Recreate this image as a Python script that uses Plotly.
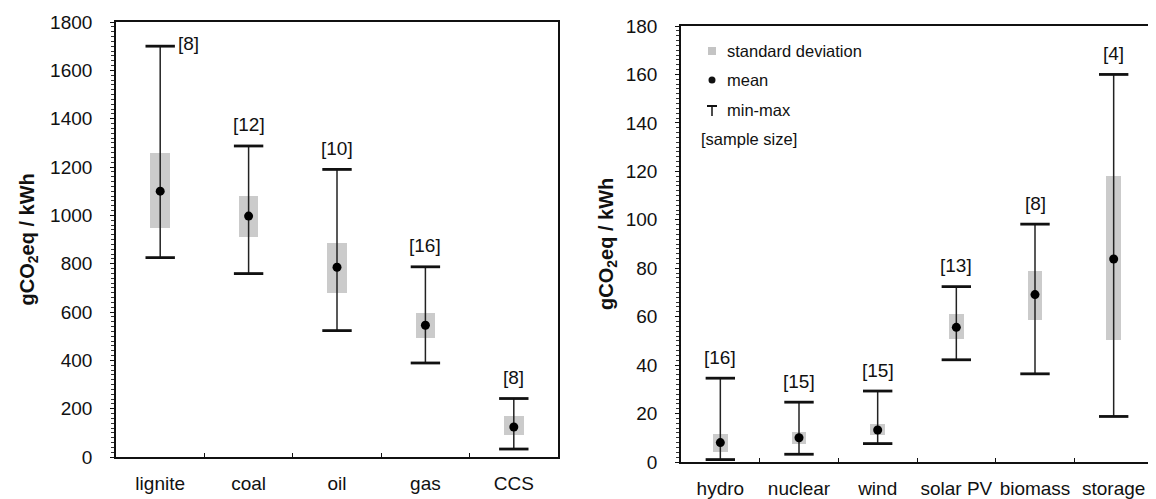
import plotly.graph_objects as go

# ---- data: fossil (left panel) ----
fossil = ["lignite", "coal", "oil", "gas", "CCS"]
fossil_mean = [1100, 997, 785, 545, 124]
fossil_sd_lo = [948, 911, 679, 493, 92]
fossil_sd_hi = [1256, 1080, 886, 596, 168]
fossil_min = [825, 759, 523, 389, 33]
fossil_max = [1700, 1287, 1190, 787, 242]
fossil_n = [8, 12, 10, 16, 8]

# ---- data: low-carbon (right panel) ----
renew = ["hydro", "nuclear", "wind", "solar PV", "biomass", "storage"]
renew_mean = [8.0, 10.0, 13.2, 55.6, 69.1, 83.8]
renew_sd_lo = [4.1, 7.6, 11.0, 50.8, 58.7, 50.2]
renew_sd_hi = [11.7, 12.4, 15.8, 61.1, 78.7, 118.2]
renew_min = [1.0, 3.2, 7.6, 42.2, 36.4, 18.8]
renew_max = [34.6, 24.7, 29.3, 72.4, 98.2, 160]
renew_n = [16, 15, 15, 13, 8, 4]

FONT = "Liberation Sans, Arial, sans-serif"
# the page body has an 8px margin, so the figure is a bit smaller than the window
OFF = 8
W, H = 1156 - OFF, 499 - OFF
FS = 19


def px(x):
    return (x - OFF) / W


def py(y):
    return 1 - (y - OFF) / H


fig = go.Figure()


def add_panel(cats, mean, lo, hi, mn, mx, n, xa, ya, barw):
    # standard deviation boxes
    fig.add_trace(go.Bar(
        x=cats, y=[h - l for l, h in zip(lo, hi)], base=lo, width=barw,
        marker=dict(color="#cbcbcb", line=dict(width=0)),
        xaxis=xa, yaxis=ya, showlegend=False))
    # min-max stems + mean dots
    fig.add_trace(go.Scatter(
        x=cats, y=mean, mode="markers",
        marker=dict(color="black", size=9),
        error_y=dict(type="data", symmetric=False,
                     array=[b - m for b, m in zip(mx, mean)],
                     arrayminus=[m - a for a, m in zip(mn, mean)],
                     width=0, thickness=1.5, color="#222"),
        xaxis=xa, yaxis=ya, showlegend=False))
    # caps
    fig.add_trace(go.Scatter(
        x=cats + cats, y=mn + mx, mode="markers",
        marker=dict(symbol="line-ew", size=21, line=dict(width=2.8, color="#111")),
        xaxis=xa, yaxis=ya, showlegend=False))
    # sample size labels
    for i, (c, top, k) in enumerate(zip(cats, mx, n)):
        side = (xa == "x" and i == 0)
        fig.add_annotation(
            x=c, y=top, xref=xa, yref=ya, text=f"[{k}]", showarrow=False,
            xanchor="left" if side else "center", yanchor="middle",
            xshift=16 if side else 0, yshift=3 if side else 21,
            font=dict(family=FONT, size=FS, color="#111"))


add_panel(fossil, fossil_mean, fossil_sd_lo, fossil_sd_hi, fossil_min,
          fossil_max, fossil_n, "x", "y", 0.22)
add_panel(renew, renew_mean, renew_sd_lo, renew_sd_hi, renew_min,
          renew_max, renew_n, "x2", "y2", 0.19)

axis_common = dict(showline=True, linecolor="#111", linewidth=1.6, mirror=True,
                   showgrid=False, zeroline=False, automargin=False,
                   tickfont=dict(family=FONT, size=FS, color="#111"))

xcommon = dict(axis_common, type="category", tickson="boundaries", tickangle=0,
               ticks="inside", ticklen=4, tickcolor="#111", ticklabelstandoff=8)
ycommon = dict(axis_common, ticks="outside", ticklen=4, tickcolor="#111",
               ticklabelstandoff=14)

fig.update_layout(
    width=W, height=H,
    margin=dict(l=0, r=0, t=0, b=0, autoexpand=False),
    paper_bgcolor="white", plot_bgcolor="white",
    bargap=0,
    xaxis=dict(xcommon, domain=[px(116), px(558)], anchor="y",
               categoryorder="array", categoryarray=fossil),
    yaxis=dict(ycommon, domain=[py(457), py(22)], anchor="x",
               range=[0, 1800], dtick=200,
               minor=dict(dtick=20, ticks="outside", ticklen=3, tickcolor="#333")),
    xaxis2=dict(xcommon, domain=[px(681), px(1153)], anchor="y2",
                categoryorder="array", categoryarray=renew),
    yaxis2=dict(ycommon, domain=[py(462), py(26)], anchor="x2",
                range=[0, 180], dtick=20,
                minor=dict(dtick=2, ticks="outside", ticklen=3, tickcolor="#333")),
)

# y-axis titles
ytitle = "<b>gCO<sub>2</sub>eq / kWh</b>"
for xpos, (y0, y1) in [(px(28), (py(457), py(22))),
                       (px(607), (py(462), py(26)))]:
    fig.add_annotation(x=xpos, y=(y0 + y1) / 2, xref="paper", yref="paper",
                       text=ytitle, textangle=-90, showarrow=False,
                       xanchor="center", yanchor="middle",
                       font=dict(family=FONT, size=20, color="#111"))

# legend inside right panel: symbols as shapes, labels as text
leg_x = 712
fig.add_shape(type="rect", xref="paper", yref="paper",
              x0=px(leg_x - 4), x1=px(leg_x + 4), y0=py(55), y1=py(47),
              fillcolor="#c4c4c4", line=dict(width=0))
fig.add_shape(type="circle", xref="paper", yref="paper",
              x0=px(leg_x - 3.5), x1=px(leg_x + 3.5), y0=py(83.5), y1=py(76.5),
              fillcolor="#111", line=dict(width=0))
fig.add_shape(type="line", xref="paper", yref="paper",
              x0=px(leg_x - 5), x1=px(leg_x + 5), y0=py(106), y1=py(106),
              line=dict(color="#111", width=2))
fig.add_shape(type="line", xref="paper", yref="paper",
              x0=px(leg_x), x1=px(leg_x), y0=py(106), y1=py(116),
              line=dict(color="#111", width=1.5))

legend_labels = [("standard deviation", 51), ("mean", 80), ("min-max", 110)]
for label, ypos in legend_labels:
    fig.add_annotation(x=px(725), y=py(ypos), xref="paper", yref="paper",
                       text=label, showarrow=False, xanchor="left", yanchor="middle",
                       font=dict(family=FONT, size=16.5, color="#111"))
fig.add_annotation(x=px(699), y=py(139), xref="paper", yref="paper",
                   text="[sample size]", showarrow=False, xanchor="left",
                   yanchor="middle",
                   font=dict(family=FONT, size=16.5, color="#111"))

fig.write_html("out.html")
